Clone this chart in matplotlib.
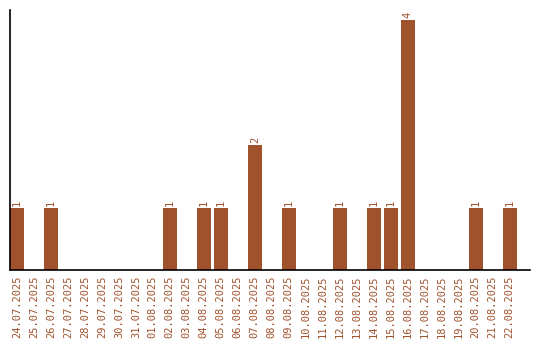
import matplotlib
matplotlib.use("Agg")
import matplotlib.pyplot as plt

# Data
dates = ["24.07.2025", "25.07.2025", "26.07.2025", "27.07.2025", "28.07.2025",
         "29.07.2025", "30.07.2025", "31.07.2025", "01.08.2025", "02.08.2025",
         "03.08.2025", "04.08.2025", "05.08.2025", "06.08.2025", "07.08.2025",
         "08.08.2025", "09.08.2025", "10.08.2025", "11.08.2025", "12.08.2025",
         "13.08.2025", "14.08.2025", "15.08.2025", "16.08.2025", "17.08.2025",
         "18.08.2025", "19.08.2025", "20.08.2025", "21.08.2025", "22.08.2025"]
counts = [1, 0, 1, 0, 0, 0, 0, 0, 0, 1,
          0, 1, 1, 0, 2, 0, 1, 0, 0, 1,
          0, 1, 1, 4, 0, 0, 0, 1, 0, 1]

color = "#A0522D"

fig = plt.figure(figsize=(5.4, 3.4), dpi=100)
ax = fig.add_axes([10 / 540, 70 / 340, 520 / 540, 260 / 340])

x = range(len(dates))
bars = ax.bar(x, counts, width=0.82, color=color)

# Beschriftung über den Balken
for i, v in enumerate(counts):
    if v > 0:
        ax.text(i, v + 0.03, str(v), rotation=90, ha="center", va="bottom",
                color=color, fontsize=7.5, family="DejaVu Sans Mono")

ax.set_xlim(-0.41, 30.2)
ax.set_ylim(0, 4.16)
ax.set_xticks(list(x))
ax.set_xticklabels(dates, rotation=90, color=color, fontsize=7.5,
                   family="DejaVu Sans Mono")
ax.tick_params(axis="x", length=0, pad=4)
ax.set_yticks([])
ax.spines["top"].set_visible(False)
ax.spines["right"].set_visible(False)
ax.spines["left"].set_linewidth(1.2)
ax.spines["bottom"].set_linewidth(1.2)

fig.savefig("out.png", dpi=100)
